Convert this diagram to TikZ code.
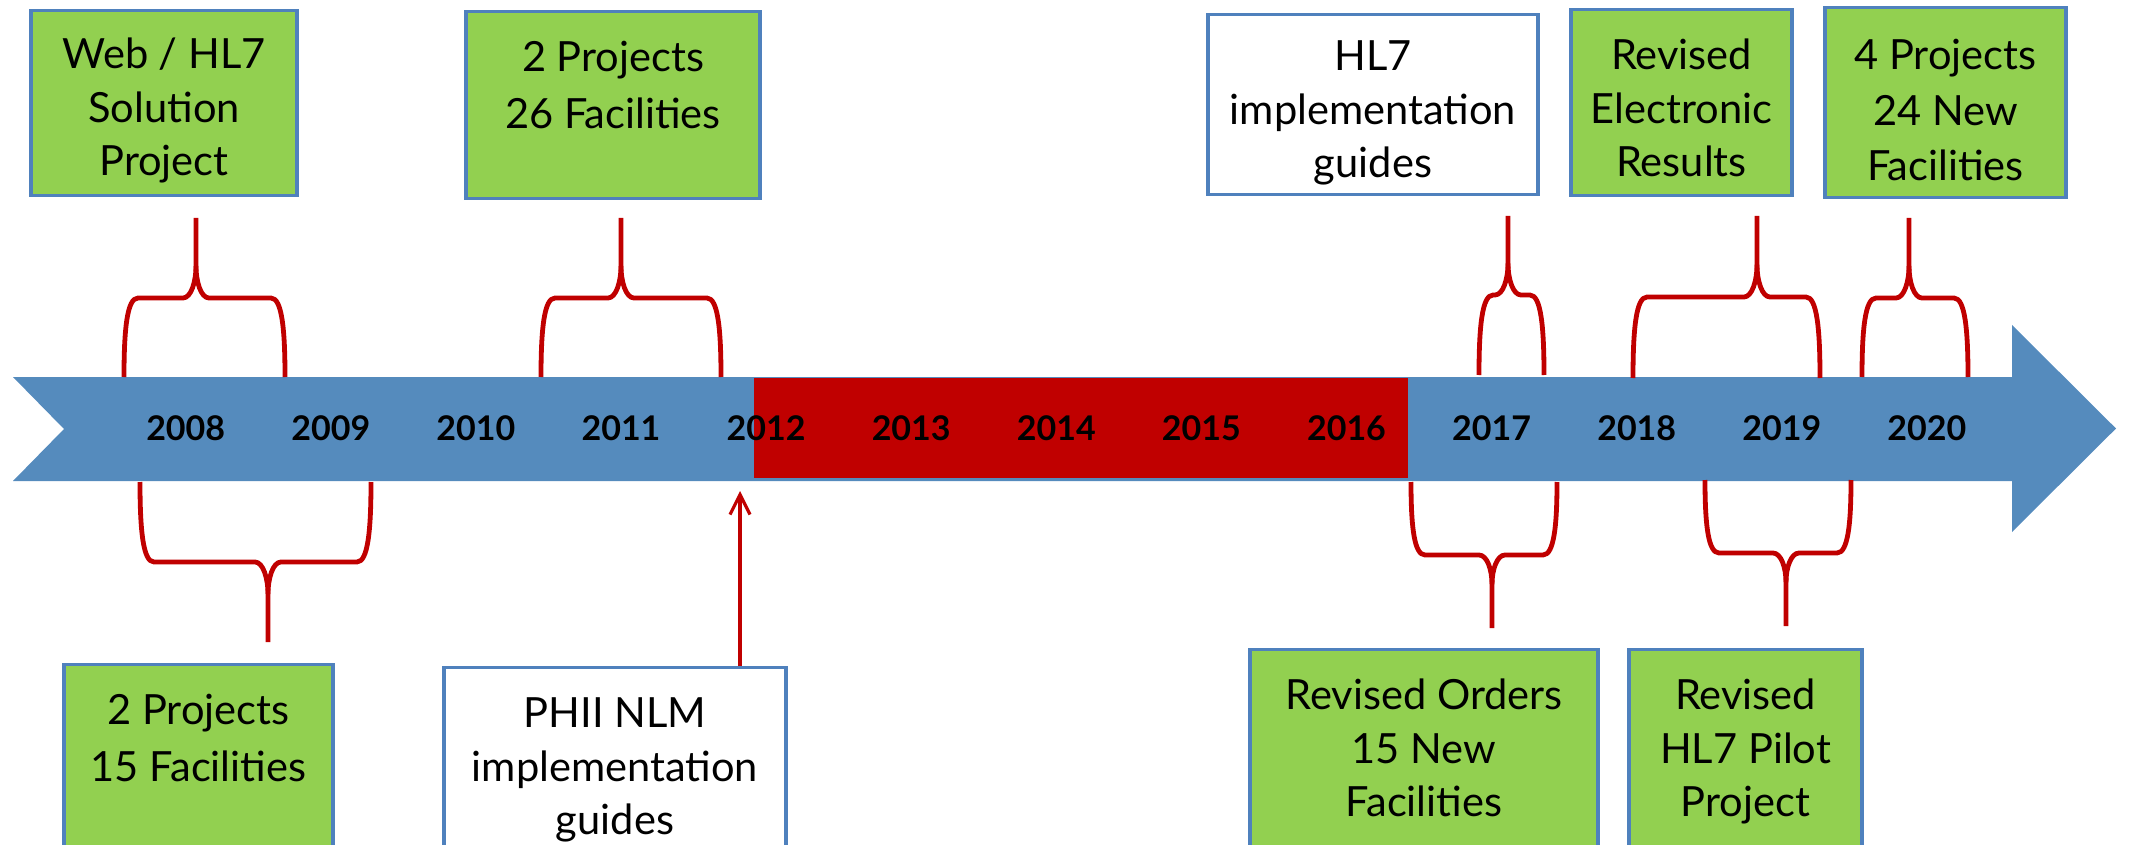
\documentclass[tikz,border=0pt]{standalone}
\usepackage{fontspec}
\setmainfont{Lato}
\usetikzlibrary{arrows.meta}
\definecolor{tlblue}{RGB}{85,139,189}
\definecolor{tlred}{RGB}{192,0,0}
\definecolor{boxgreen}{RGB}{146,208,80}
\definecolor{boxblue}{RGB}{79,129,189}

\tikzset{
  evbox/.style={draw=boxblue, line width=1.7pt, align=center, inner sep=0pt, anchor=north,
    font=\fontsize{20.8pt}{26.8pt}\selectfont},
  greenbox/.style={evbox, fill=boxgreen},
  whitebox/.style={evbox, fill=white},
  threeline/.style={text height=83.6pt},
  twoline/.style={text height=58.5pt},
  yearlabel/.style={font=\fontsize{17pt}{20pt}\selectfont\bfseries, inner sep=0pt},
  tlbrace/.style={draw=tlred, line width=2.4pt, line join=round},
  nlmarrow/.style={draw=tlred, line width=1.6pt, -{Straight Barb[length=10pt,width=10pt]}}
}

\begin{document}
\begin{tikzpicture}[x=0.5pt, y=-0.5pt]
    \useasboundingbox (0,0) rectangle (2131,845);
    \clip (0,0) rectangle (2131,845);

    % timeline arrow
    \fill[tlblue] (13,377) -- (2012,377) -- (2012,325) -- (2116,428.5) -- (2012,532)
        -- (2012,481) -- (13,481) -- (64,429) -- cycle;
    \fill[tlred] (754,378) rectangle (1408,478);
    \foreach \yr [count=\k from 0] in {2008,...,2020}
        \node[yearlabel] (y\yr) at ({185.7+145.1*\k},428.5) {\yr};

    % braces: left, right, tip x, base y, bar y, tip y
    \foreach \xl/\xr/\xt/\yb/\ym/\ye in {124/285/196/377/298/218, 541/721/621/377/298/218,
        1479/1544/1508/375/295/216, 1633/1820/1757/378/297/216, 1862/1968/1909/377/298/218,
        140/371/268/482/562/642, 1411/1557/1492/482/555/628, 1705/1851/1786/480/553/626} {
        \draw[tlbrace] (\xl,\yb) .. controls (\xl,{\ym+0.4*(\yb-\ym)}) and ({\xl+3},\ym) .. ({\xl+14},\ym)
            -- ({\xt-13},\ym) .. controls ({\xt-5},\ym) and (\xt,{\ym+0.2*(\ye-\ym)}) .. (\xt,{\ym+0.4*(\ye-\ym)})
            -- (\xt,\ye);
        \draw[tlbrace] (\xr,\yb) .. controls (\xr,{\ym+0.4*(\yb-\ym)}) and ({\xr-3},\ym) .. ({\xr-14},\ym)
            -- ({\xt+13},\ym) .. controls ({\xt+5},\ym) and (\xt,{\ym+0.2*(\ye-\ym)}) .. (\xt,{\ym+0.4*(\ye-\ym)});
    }

    % boxes above the timeline
    \node[greenbox, threeline, minimum width=133pt, text height=82.6pt, text depth=9.9pt] (webhl7) at (164,9) {Web / HL7\\Solution\\Project};
    \node[greenbox, twoline, minimum width=147pt, text depth=35pt] (proj26) at (613,10) {2 Projects\\[1.7pt]26 Facilities};
    \node[whitebox, threeline, minimum width=165pt, text height=81.6pt, text depth=8.4pt] (hl7guides) at (1373,13) {HL7\\implementation\\guides};
    \node[greenbox, threeline, minimum width=110.5pt, text depth=9.4pt] (revresults) at (1681.5,8) {Revised\\Electronic\\Results};
    \node[greenbox, threeline, minimum width=120.5pt, text height=86.6pt, text depth=8.4pt] (proj24) at (1945.5,6) {4 Projects\\[1pt]24 New\\[1pt]Facilities};

    % boxes below the timeline
    \node[greenbox, twoline, minimum width=134.5pt, text depth=37.5pt] (proj15) at (198.5,663) {2 Projects\\[1.7pt]15 Facilities};
    \node[whitebox, threeline, minimum width=171pt, text depth=12.4pt] (phii) at (615,666) {PHII NLM\\implementation\\guides};
    \node[greenbox, threeline, minimum width=174pt, text depth=16.4pt] (revorders) at (1424,648) {Revised Orders\\15 New\\Facilities};
    \node[greenbox, threeline, minimum width=116.5pt, text depth=16.4pt] (revpilot) at (1745.5,648) {Revised\\HL7 Pilot\\Project};

    \coordinate (nlmtip) at (740,491);
    \draw[nlmarrow] (phii.north -| nlmtip) -- (nlmtip);
\end{tikzpicture}
\end{document}
